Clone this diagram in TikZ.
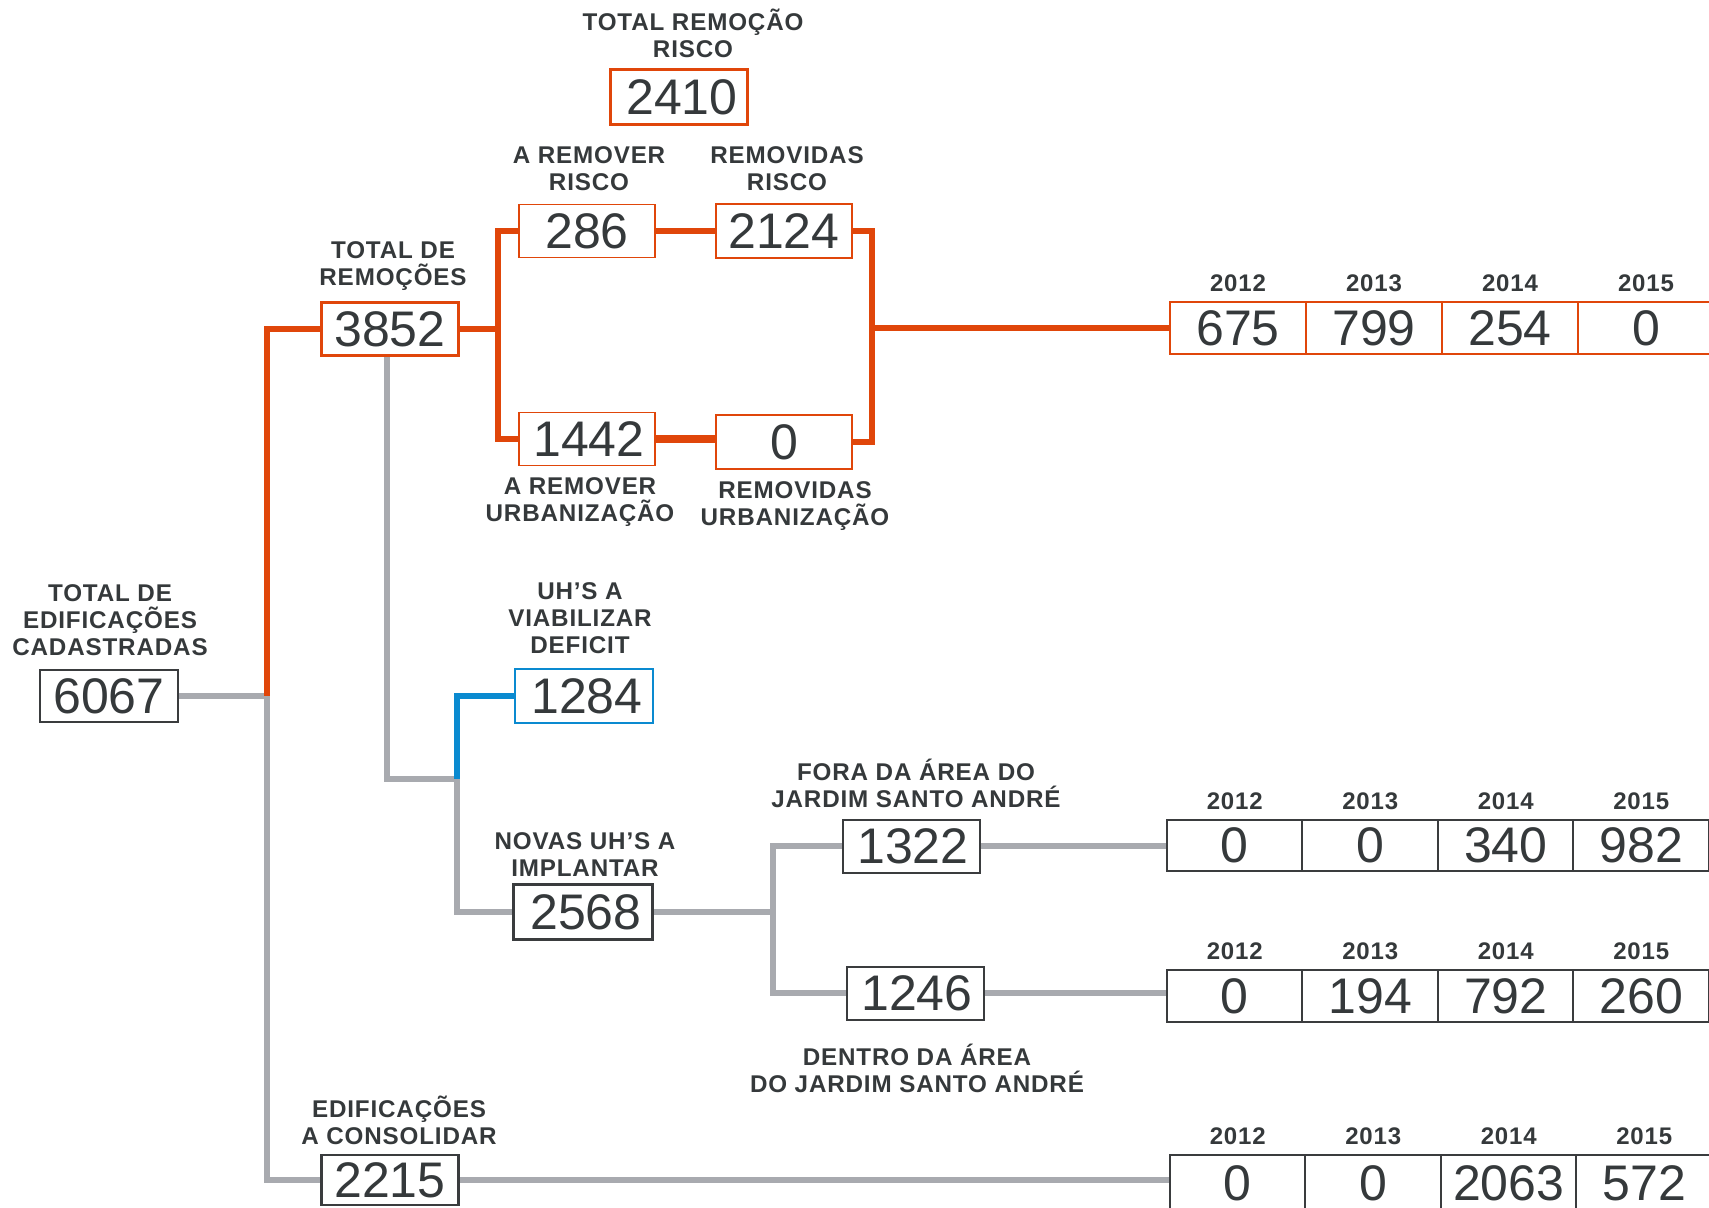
\documentclass[tikz,border=0pt]{standalone}
\usepackage{fontspec}
\setmainfont{Liberation Sans}
\newfontfamily\labfont[LetterSpace=3.5]{Liberation Sans}
\newfontfamily\numfont{Liberation Sans}
\definecolor{txt}{HTML}{35393B}
\definecolor{org}{HTML}{E0460A}
\definecolor{gry}{HTML}{A8AAAF}
\definecolor{blu}{HTML}{0A8AD0}
\definecolor{drk}{HTML}{3A3C3E}
\pgfdeclarelayer{bg}
\pgfsetlayers{bg,main}
\tikzset{
  nbox/.style={draw=drk, fill=white, line width=1.1pt, inner sep=0pt, minimum width=68.5pt, minimum height=26.5pt, font=\numfont\fontsize{25}{25}\selectfont, text=txt},
  obox/.style={nbox, draw=org},
  bbox/.style={nbox, draw=blu},
  lab/.style={align=center, font=\labfont\bfseries\fontsize{12.1}{13.5}\selectfont, text=txt, inner sep=0pt},
  yr/.style={font=\labfont\bfseries\fontsize{12}{12}\selectfont, text=txt, inner sep=0pt, anchor=south},
  oln/.style={draw=org, line width=3pt},
  gln/.style={draw=gry, line width=3.2pt},
  bln/.style={draw=blu, line width=3pt},
  cell/.style={nbox, minimum width=68pt, minimum height=26pt, line width=1pt},
}
\begin{document}
\begin{tikzpicture}[x=0.5pt, y=-0.5pt]
\useasboundingbox (0,0) rectangle (1709,1207);
\clip (0,0) rectangle (1709,1207);

% main boxes
\node[nbox, line width=1.35pt, minimum width=69pt, minimum height=26pt] (b6067) at (109,696) {6067};
\node[obox, line width=1.5pt] (b3852) at (390,329) {3852};
\node[obox, line width=1.5pt, minimum height=27.5pt] (b2410) at (679,97) {\hspace*{3pt}2410};
\node[obox, line width=0.8pt, minimum width=68pt] (b286) at (587,231) {286};
\node[obox, line width=1.4pt, minimum width=68pt, minimum height=27pt] (b2124) at (784,231) {2124};
\node[obox, line width=0.9pt, minimum width=68pt] (b1442) at (587,439) {\hspace*{2pt}1442};
\node[obox, line width=1.4pt, minimum width=68pt, minimum height=27pt] (b0) at (784,442) {0};
\node[bbox, line width=1pt, minimum width=69pt, minimum height=27pt] (b1284) at (584,696) {\hspace*{3pt}1284};
\node[nbox, line width=1.5pt, minimum width=69.5pt, minimum height=27.5pt] (b2568) at (583,912) {\hspace*{3pt}2568};
\node[nbox, line width=1pt] (b1322) at (911,846) {\hspace*{2pt}1322};
\node[nbox, line width=1pt] (b1246) at (915,993) {\hspace*{2pt}1246};
\node[nbox, line width=1.3pt, minimum height=25pt] (b2215) at (390,1180) {2215};

% labels
\node[lab] (l6067) at (110,620) {TOTAL DE\\EDIFICAÇÕES\\CADASTRADAS};
\node[lab] (l3852) at (393,266) {TOTAL DE\\REMOÇÕES};
\node[lab] (l2410) at (693,33) {TOTAL REMOÇÃO\\RISCO};
\node[lab] (l286) at (589,169) {A REMOVER\\RISCO};
\node[lab] (l2124) at (787,169) {REMOVIDAS\\RISCO};
\node[lab] (l1442) at (580,502) {A REMOVER\\URBANIZAÇÃO};
\node[lab] (l0) at (795,506) {REMOVIDAS\\URBANIZAÇÃO};
\node[lab] (l1284) at (580,618) {UH’S A\\VIABILIZAR\\DEFICIT};
\node[lab] (l2568) at (585,855) {NOVAS UH’S A\\IMPLANTAR};
\node[lab] (l1322) at (916,783) {FORA DA ÁREA DO\\JARDIM SANTO ANDRÉ};
\node[lab] (l1246) at (917,1068) {DENTRO DA ÁREA\\DO JARDIM SANTO ANDRÉ};
\node[lab] (l2215) at (399,1120) {EDIFICAÇÕES\\A CONSOLIDAR};

% tables
\foreach \v [count=\i, evaluate=\i as \yy using int(2011+\i)] in {675,799,254,0} {
  \node[cell, draw=org] (tT\i) at ({1170+136*(\i-0.5)},328) {\v};
  \node[yr] (yT\i) at ([yshift=4.5pt]tT\i.north) {\yy};
}
\foreach \v [count=\i, evaluate=\i as \yy using int(2011+\i)] in {0,0,340,982} {
  \node[cell, minimum height=25.5pt] (tA\i) at ({1167+135.5*(\i-0.5)},845.5) {\v};
  \node[yr] (yA\i) at ([yshift=4.5pt]tA\i.north) {\yy};
}
\foreach \v [count=\i, evaluate=\i as \yy using int(2011+\i)] in {0,194,792,260} {
  \node[cell] (tB\i) at ({1167+135.5*(\i-0.5)},996) {\v};
  \node[yr] (yB\i) at ([yshift=4.5pt]tB\i.north) {\yy};
}
\foreach \v [count=\i, evaluate=\i as \yy using int(2011+\i)] in {0,0,2063,572} {
  \node[cell, minimum height=28pt, line width=1.2pt] (tC\i) at ({1170+135.5*(\i-0.5)},1183) {\v};
  \node[yr] (yC\i) at ([yshift=4.5pt]tC\i.north) {\yy};
}

% connectors
\begin{pgfonlayer}{bg}
\coordinate (trunk) at (267,696);
\coordinate (brL) at (498,329);
\coordinate (brR) at (872,328);
\coordinate (jn) at (457,779);
\coordinate (jn2) at (773,912);
\draw[gln] (b6067.east) -- (trunk);
\draw[oln] (trunk) |- (b3852.west);
\draw[gln] (trunk) |- (b2215.west);
\draw[oln] (b3852.east) -- (brL);
\draw[oln] (b286.west) -| (brL) |- (b1442.west);
\draw[oln, line width=2.8pt] (b286.east) -- (b2124.west);
\draw[oln, line width=4.4pt] (b1442.east) -- (b1442.east -| b0.west);
\draw[oln] (b2124.east) -| (brR) |- (b0.east);
\draw[oln] (brR) -- (tT1.west);
\draw[gln] ([xshift=-1.5pt]b3852.south) |- (jn);
\draw[bln] (jn) |- (b1284.west);
\draw[gln] (jn) |- (b2568.west);
\draw[gln] (b2568.east) -- (jn2);
\draw[gln] (b1322.west) -| (jn2) |- (b1246.west);
\draw[gln] (b1322.east) -- (b1322.east -| tA1.west);
\draw[gln] (b1246.east) -- (b1246.east -| tB1.west);
\draw[gln] (b2215.east) -- (b2215.east -| tC1.west);
\end{pgfonlayer}
\end{tikzpicture}
\end{document}
